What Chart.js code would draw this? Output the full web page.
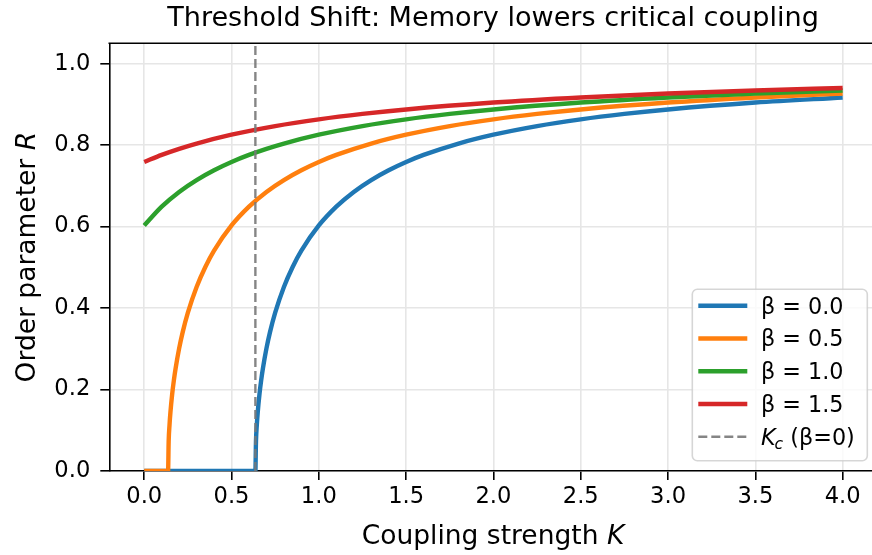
<!DOCTYPE html>
<html><head><meta charset="utf-8">
<script src="https://cdn.jsdelivr.net/npm/chart.js@4.4.0/dist/chart.umd.min.js"></script>
<style>
html,body{margin:0;padding:0;overflow:hidden;background:#fff;width:872px;height:555px}
#c{display:block}
</style></head>
<body><canvas id="c" width="872" height="555"></canvas>
<script>
// ---- data ----
const kcValue = 0.6366;
const kBeta00 = [0, 0.3, 0.6366, 0.64, 0.645, 0.65, 0.66, 0.67, 0.68, 0.7, 0.72, 0.75, 0.8, 0.85, 0.9, 1.0, 1.1, 1.2, 1.3, 1.4, 1.5, 1.6, 1.8, 2.0, 2.25, 2.5, 2.75, 3.0, 3.5, 4.0];
const rBeta00 = [0, 0, 0, 0.0727, 0.1140, 0.1435, 0.1882, 0.2232, 0.2526, 0.3009, 0.3403, 0.3888, 0.4519, 0.5010, 0.5410, 0.6028, 0.6490, 0.6852, 0.7143, 0.7384, 0.7587, 0.7760, 0.8039, 0.8256, 0.8468, 0.8633, 0.8766, 0.8876, 0.9045, 0.9170];
const kBeta05 = [0, 0.1366, 0.14, 0.145, 0.15, 0.16, 0.17, 0.18, 0.2, 0.22, 0.25, 0.3, 0.35, 0.4, 0.5, 0.6, 0.7, 0.8, 0.9, 1.0, 1.1, 1.3, 1.5, 1.75, 2.0, 2.25, 2.5, 3.0, 3.5, 4.0];
const rBeta05 = [0, 0, 0.0727, 0.1140, 0.1435, 0.1882, 0.2232, 0.2526, 0.3009, 0.3403, 0.3888, 0.4519, 0.5010, 0.5410, 0.6028, 0.6490, 0.6852, 0.7143, 0.7384, 0.7587, 0.7760, 0.8039, 0.8256, 0.8468, 0.8633, 0.8766, 0.8876, 0.9045, 0.9170, 0.9266];
const kBeta10 = [0, 0.1, 0.2, 0.3, 0.4, 0.5, 0.6, 0.7, 0.8, 1.0, 1.25, 1.5, 1.75, 2.0, 2.5, 3.0, 3.5, 4.0];
const rBeta10 = [0.6028, 0.6490, 0.6852, 0.7143, 0.7384, 0.7587, 0.7760, 0.7909, 0.8039, 0.8256, 0.8468, 0.8633, 0.8766, 0.8876, 0.9045, 0.9170, 0.9266, 0.9342];
const kBeta15 = [0, 0.1, 0.2, 0.3, 0.5, 0.75, 1.0, 1.25, 1.5, 2.0, 2.5, 3.0, 3.5, 4.0];
const rBeta15 = [0.7587, 0.7760, 0.7909, 0.8039, 0.8256, 0.8468, 0.8633, 0.8766, 0.8876, 0.9045, 0.9170, 0.9266, 0.9342, 0.9403];
const seriesLabels = ['β = 0.0', 'β = 0.5', 'β = 1.0', 'β = 1.5'];
const kcLabel = 'Kc (β=0)';
const xTickValues = [0, 0.5, 1.0, 1.5, 2.0, 2.5, 3.0, 3.5, 4.0];
const yTickValues = [0, 0.2, 0.4, 0.6, 0.8, 1.0];
const titleText = 'Threshold Shift: Memory lowers critical coupling';
const xTitle = ['Coupling strength ', 'K'];
const yTitle = ['Order parameter ', 'R'];
const xMin = -0.2, xMaxVisible = 4.168;   // right edge of the picture cuts the axes box
const yMin = 0, yMax = 1.05;

// ---- build ----
const FONT = 'DejaVu Sans';
const colors = ['#1f77b4', '#ff7f0e', '#2ca02c', '#d62728'];
const zip = (xs, ys) => xs.map((x, i) => ({x: x, y: ys[i]}));
const seriesK = [kBeta00, kBeta05, kBeta10, kBeta15];
const seriesR = [rBeta00, rBeta05, rBeta10, rBeta15];
const datasets = seriesLabels.map((lab, i) => ({
  label: lab,
  data: zip(seriesK[i], seriesR[i]),
  borderColor: colors[i],
  backgroundColor: colors[i],
  borderWidth: 4.4,
  cubicInterpolationMode: 'monotone',
  pointRadius: 0,
  fill: false,
  order: 4 - i
}));
datasets.push({
  label: kcLabel,
  isKc: true,
  data: [{x: kcValue, y: yMin}, {x: kcValue, y: yMax}],
  borderColor: 'rgba(120,120,120,0.9)',
  borderWidth: 2.4,
  borderDash: [9, 4],
  pointRadius: 0,
  fill: false,
  order: 0
});

const decorPlugin = {
  id: 'decor',
  afterDraw(chart) {
    const ctx = chart.ctx, a = chart.chartArea;
    const axesCenterX = 493;
    ctx.save();
    // top spine
    ctx.strokeStyle = '#000'; ctx.lineWidth = 1.6;
    ctx.beginPath(); ctx.moveTo(a.left - 0.8, a.top); ctx.lineTo(a.right + 2, a.top); ctx.stroke();
    // title
    ctx.fillStyle = '#000'; ctx.textAlign = 'center'; ctx.textBaseline = 'middle';
    ctx.font = '27.1px "' + FONT + '"';
    ctx.fillText(titleText, axesCenterX, 19.2);
    // x title
    const fR = '26.5px "' + FONT + '"', fI = 'italic 26.5px "' + FONT + '"';
    ctx.textBaseline = 'alphabetic'; ctx.textAlign = 'left';
    ctx.font = fR; let w1 = ctx.measureText(xTitle[0]).width;
    ctx.font = fI; let w2 = ctx.measureText(xTitle[1]).width;
    let x0 = axesCenterX - (w1 + w2) / 2;
    ctx.font = fR; ctx.fillText(xTitle[0], x0, 544);
    ctx.font = fI; ctx.fillText(xTitle[1], x0 + w1, 544);
    // y title
    ctx.save();
    ctx.translate(34.5, (a.top + a.bottom) / 2);
    ctx.rotate(-Math.PI / 2);
    ctx.font = fR; w1 = ctx.measureText(yTitle[0]).width;
    ctx.font = fI; w2 = ctx.measureText(yTitle[1]).width;
    x0 = -(w1 + w2) / 2;
    ctx.font = fR; ctx.fillText(yTitle[0], x0, 0);
    ctx.font = fI; ctx.fillText(yTitle[1], x0 + w1, 0);
    ctx.restore();
    // legend
    const bx = 692.3, by = 289.3, bw = 175, bh = 171.4, r = 5;
    ctx.beginPath();
    ctx.moveTo(bx + r, by);
    ctx.arcTo(bx + bw, by, bx + bw, by + bh, r);
    ctx.arcTo(bx + bw, by + bh, bx, by + bh, r);
    ctx.arcTo(bx, by + bh, bx, by, r);
    ctx.arcTo(bx, by, bx + bw, by, r);
    ctx.closePath();
    ctx.fillStyle = 'rgba(255,255,255,0.8)'; ctx.fill();
    ctx.strokeStyle = 'rgba(204,204,204,0.8)'; ctx.lineWidth = 1.6; ctx.stroke();
    const fL = '22.3px "' + FONT + '"', fLI = 'italic 22.3px "' + FONT + '"', fLS = 'italic 15.6px "' + FONT + '"';
    chart.data.datasets.forEach((ds, i) => {
      const y = 305.7 + i * 32.75;
      ctx.beginPath();
      ctx.setLineDash(ds.borderDash || []);
      ctx.strokeStyle = ds.borderColor; ctx.lineWidth = ds.borderWidth;
      ctx.moveTo(698.3, y); ctx.lineTo(747.3, y); ctx.stroke();
      ctx.setLineDash([]);
      ctx.fillStyle = '#000'; ctx.textBaseline = 'alphabetic';
      const base = y + 8;
      if (ds.isKc) {
        ctx.font = fLI; ctx.fillText('K', 761, base);
        let w = ctx.measureText('K').width;
        ctx.font = fLS; ctx.fillText('c', 761 + w - 1, base + 4.5);
        let w2 = ctx.measureText('c').width;
        ctx.font = fL; ctx.fillText(' (β=0)', 761 + w - 1 + w2, base);
      } else {
        ctx.font = fL; ctx.fillText(ds.label, 761, base);
      }
    });
    ctx.restore();
  }
};

const tickFont = {family: FONT, size: 22.6};
new Chart(document.getElementById('c'), {
  type: 'line',
  data: {datasets: datasets},
  options: {
    responsive: false,
    animation: false,
    devicePixelRatio: 1,
    layout: {padding: {left: 0, right: 0, top: 43.3, bottom: 0}},
    scales: {
      x: {
        type: 'linear', min: xMin, max: xMaxVisible,
        afterFit: s => { s.height = 84; s.paddingLeft = 0; s.paddingRight = 0; },
        afterBuildTicks: s => { s.ticks = xTickValues.map(v => ({value: v})); },
        ticks: {font: tickFont, color: '#000', padding: 4, maxRotation: 0, autoSkip: false,
                callback: v => Number(v).toFixed(1)},
        grid: {color: '#e6e6e6', lineWidth: 1.6, tickColor: '#000', tickWidth: 1.6, tickLength: 9},
        border: {color: '#000', width: 1.6}
      },
      y: {
        type: 'linear', min: yMin, max: yMax,
        afterFit: s => { s.width = 109.3; s.paddingTop = 0; s.paddingBottom = 0; },
        afterBuildTicks: s => { s.ticks = yTickValues.map(v => ({value: v})); },
        ticks: {font: tickFont, color: '#000', padding: 10, autoSkip: false,
                callback: v => Number(v).toFixed(1)},
        grid: {color: '#e6e6e6', lineWidth: 1.6, tickColor: '#000', tickWidth: 1.6, tickLength: 9},
        border: {color: '#000', width: 1.6}
      }
    },
    plugins: {
      legend: {display: false},
      tooltip: {enabled: false},
      title: {display: false}
    }
  },
  plugins: [decorPlugin]
});
</script>
</body></html>
